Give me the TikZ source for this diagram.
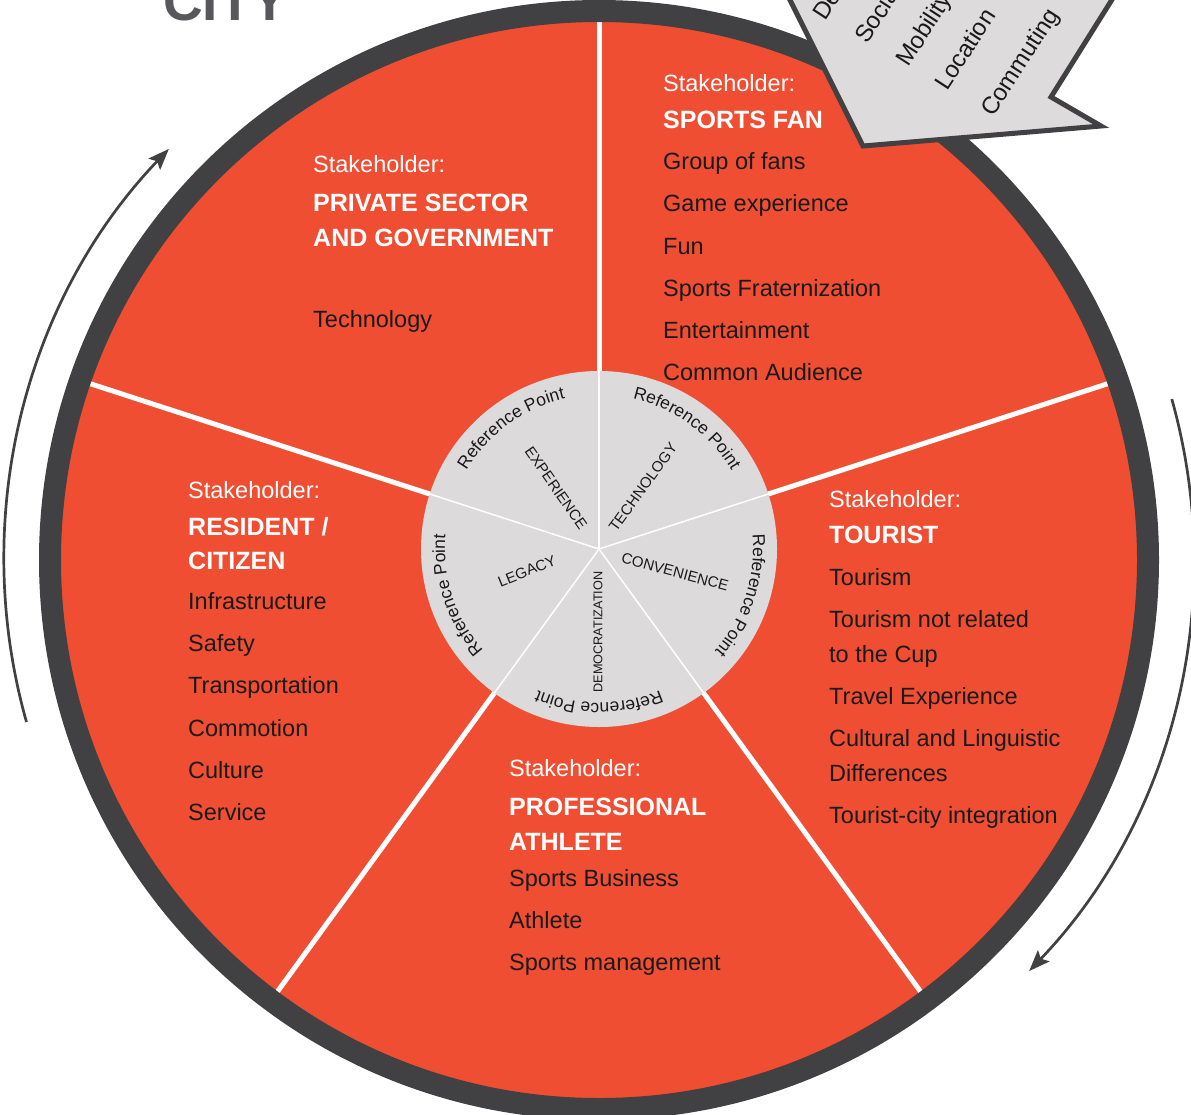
\documentclass[tikz,border=0pt]{standalone}
\usepackage{fontspec}
\setmainfont{Liberation Sans}
\usetikzlibrary{decorations.text,arrows.meta,calc}
\definecolor{cred}{HTML}{EF4E33}
\definecolor{cdark}{HTML}{414042}
\definecolor{cgrey}{HTML}{DCDADB}
\definecolor{ccall}{HTML}{DDDBDC}
\definecolor{ctext}{HTML}{1A1A1A}
\definecolor{ccity}{HTML}{58585A}
\begin{document}
\begin{tikzpicture}[x=1pt,y=-1pt,
  item/.style={anchor=base west,inner sep=0pt,text=ctext,font=\fontsize{23.5}{28}\selectfont},
  stake/.style={anchor=base west,inner sep=0pt,text=white,font=\fontsize{23.5}{28}\selectfont},
  head/.style={anchor=base west,inner sep=0pt,text=white,font=\fontsize{25}{30}\selectfont\bfseries},
  inlab/.style={inner sep=0pt,text=ctext,font=\fontsize{15}{18}\selectfont},
  callw/.style={anchor=base west,inner sep=0pt,text=ctext,rotate=57,font=\fontsize{24}{28}\selectfont},
  ringarrow/.style={draw=cdark,line width=2.7pt,-{Stealth[length=21pt,width=16pt,inset=4pt]}}
]
\clip (0,0) rectangle (1191,1114);
\coordinate (co) at (599,560);
\coordinate (ci) at (599,549);

% title
\node[anchor=base west,inner sep=0pt,text=ccity,font=\fontsize{55}{60}\selectfont\bfseries] (city) at (163,20) {CITY};

% red disk and spokes
\fill[cred] (co) circle[radius=540pt];
\begin{scope}
  \clip (co) circle[radius=540pt];
  \foreach \a in {90,18,-54,-126,162}
    \draw[white,line width=5pt] (ci) -- ($(ci)+(\a:620pt)$);
\end{scope}

% inner grey circle
\fill[cgrey] (ci) circle[radius=178pt];
\foreach \a in {90,18,-54,-126,162}
  \draw[white,line width=1.5pt] (ci) -- ($(ci)+(\a:178pt)$);

% dark ring
\draw[cdark,line width=22pt] (co) circle[radius=549pt];

% outer arrows
\draw[ringarrow] ($(co)+(195.8:595pt)$) arc[start angle=195.8,end angle=136.3,radius=595pt];
\draw[ringarrow] ($(co)+(15.7:595pt)$) arc[start angle=15.7,end angle=-43.7,radius=595pt];

% callout
\filldraw[fill=ccall,draw=cdark,line width=5pt,line join=miter]
  (785,-10) -- (863,146) -- (1101,126) -- (1051,97) -- (1118,-10) -- cycle;
\node[callw] (cw1) at (825,22) {De};
\node[callw] (cw2) at (867,45) {Socia};
\node[callw] (cw3) at (908,68) {Mobility};
\node[callw] (cw4) at (947,92) {Location};
\node[callw] (cw5) at (993,118) {Commuting};

% reference point arcs
\foreach \m in {126,54,-18,-90,198}
  \path[decorate,decoration={text along path,text align=center,
    text={|\fontsize{17.5}{20}\selectfont\color{ctext}|Reference Point}}]
    ($(ci)+({\m+45}:154pt)$) arc[start angle={\m+45},end angle={\m-45},radius=154pt];

% inner labels
\node[inlab,rotate=-55] (lexp) at (556,488) {EXPERIENCE};
\node[inlab,rotate=54] (ltech) at (643,487) {TECHNOLOGY};
\node[inlab,rotate=-15] (lconv) at (675,572) {CONVENIENCE};
\node[inlab,rotate=90,font=\fontsize{12.7}{15}\selectfont] (ldem) at (598,632) {DEMOCRATIZATION};
\node[inlab,rotate=22] (lleg) at (527,571) {LEGACY};

% private sector
\node[stake] (ps0) at (313,172) {Stakeholder:};
\node[head] (ps1) at (313,211) {PRIVATE SECTOR};
\node[head] (ps2) at (313,246) {AND GOVERNMENT};
\node[item] (ps3) at (313,327) {Technology};

% sports fan
\node[stake] (sf0) at (663,91) {Stakeholder:};
\node[head] (sf1) at (663,128) {SPORTS FAN};
\node[item] (sf2) at (663,169) {Group of fans};
\node[item] (sf3) at (663,211) {Game experience};
\node[item] (sf4) at (663,254) {Fun};
\node[item] (sf5) at (663,296) {Sports Fraternization};
\node[item] (sf6) at (663,338) {Entertainment};
\node[item] (sf7) at (663,380) {Common Audience};

% tourist
\node[stake] (to0) at (829,507) {Stakeholder:};
\node[head] (to1) at (829,543) {TOURIST};
\node[item] (to2) at (829,585) {Tourism};
\node[item] (to3) at (829,627) {Tourism not related};
\node[item] (to4) at (829,662) {to the Cup};
\node[item] (to5) at (829,704) {Travel Experience};
\node[item] (to6) at (829,746) {Cultural and Linguistic};
\node[item] (to7) at (829,781) {Differences};
\node[item] (to8) at (829,823) {Tourist-city integration};

% resident
\node[stake] (re0) at (188,498) {Stakeholder:};
\node[head] (re1) at (188,535) {RESIDENT /};
\node[head] (re2) at (188,569) {CITIZEN};
\node[item] (re3) at (188,609) {Infrastructure};
\node[item] (re4) at (188,651) {Safety};
\node[item] (re5) at (188,693) {Transportation};
\node[item] (re6) at (188,736) {Commotion};
\node[item] (re7) at (188,778) {Culture};
\node[item] (re8) at (188,820) {Service};

% professional athlete
\node[stake] (pa0) at (509,776) {Stakeholder:};
\node[head] (pa1) at (509,815) {PROFESSIONAL};
\node[head] (pa2) at (509,850) {ATHLETE};
\node[item] (pa3) at (509,886) {Sports Business};
\node[item] (pa4) at (509,928) {Athlete};
\node[item] (pa5) at (509,970) {Sports management};
\end{tikzpicture}
\end{document}
